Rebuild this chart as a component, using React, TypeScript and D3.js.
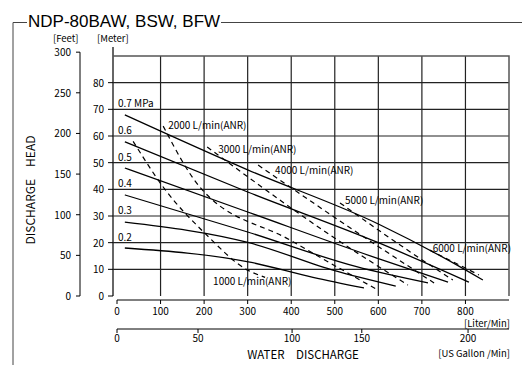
import * as d3 from "d3";

// pressure curves: [L/min, m]
const pressureNames = ["0.7 MPa", "0.6", "0.5", "0.4", "0.3", "0.2"];
const pressureLevels = [70, 60, 50, 40, 30, 20];
const p07 = [[18, 67.9], [300, 47.3], [600, 27], [800, 9.8], [840, 6]];
const p06 = [[18, 57.8], [300, 39], [600, 20], [808, 5.2]];
const p05 = [[18, 48], [300, 31.5], [600, 14], [760, 5.2]];
const p04 = [[18, 37.9], [300, 24], [550, 11], [714, 4.9]];
const p03 = [[18, 27.7], [305, 19.9], [500, 9.5], [640, 3.7]];
const p02 = [[18, 18], [305, 12.7], [450, 7], [567, 3]];
const pressureCurves = [p07, p06, p05, p04, p03, p02];

// air consumption curves
const airNames = ["1000 L/min(ANR)", "2000 L/min(ANR)", "3000 L/min(ANR)", "4000 L/min(ANR)", "5000 L/min(ANR)", "6000 L/min(ANR)"];
const a1000 = [[37, 58], [110, 40], [202, 23.5], [300, 9.7], [340, 7]];
const a2000 = [[106, 63.7], [190, 40.9], [397, 21], [595, 2.6]];
const a3000 = [[207, 55.9], [301, 44.6], [489, 22.9], [668, 4.1]];
const a4000 = [[324, 49.1], [526, 26.6], [728, 4.9]];
const a5000 = [[512, 34.9], [650, 19.1], [771, 6]];
const a6000 = [[718, 17.2], [831, 7.9]];
const airCurves = [a1000, a2000, a3000, a4000, a5000, a6000];
const airLabelOffsets = [[-52, 8], [5, 3], [11, 6], [17, 9], [5, 1], [3, 2]];

const flowTicks = [0, 100, 200, 300, 400, 500, 600, 700, 800];
const gallonTicks = [0, 50, 100, 150, 200];
// where the drawing puts the gallon ticks on the L/min scale
const gallonAtLiter = [0, 186, 402, 562, 806];
const meterTicks = [0, 10, 20, 30, 40, 50, 60, 70, 80];
const feetTicks = [0, 50, 100, 150, 200, 250, 300];

const jp = "'Noto Sans CJK JP', sans-serif";

export default function App() {
  const x = d3.scaleLinear().domain([0, 900]).range([117, 509]);
  const y = d3.scaleLinear().domain([0, 90]).range([296, 56]);
  const gal = d3.scaleLinear().domain(gallonTicks).range(gallonAtLiter.map((l) => x(l)));
  const line = d3
    .line<number[]>()
    .x((d) => x(d[0]))
    .y((d) => y(d[1]))
    .curve(d3.curveMonotoneX);

  return (
    <svg width={522} height={365} style={{ position: "absolute", left: 0, top: 0, background: "#fff" }}>
      {/* frame + title */}
      <path d="M13,365 V22.5 H27" stroke="#444" fill="none" />
      <path d="M221,22.5 H522" stroke="#444" fill="none" />
      <text x={28} y={27} fontFamily="'Liberation Sans', Arial, sans-serif" fontSize={17}>
        NDP-80BAW, BSW, BFW
      </text>

      {/* axis headers */}
      <text x={53} y={42} fontFamily={jp} fontSize={9.5}>[Feet]</text>
      <text x={97} y={42} fontFamily={jp} fontSize={9.5}>[Meter]</text>

      {/* feet axis */}
      <line x1={80} x2={80} y1={y(300 * 0.3048)} y2={y(0)} stroke="#000" />
      {feetTicks.map((t) => (
        <g key={t}>
          <line x1={76} x2={80} y1={y(t * 0.3048)} y2={y(t * 0.3048)} stroke="#000" />
          <text x={71} y={y(t * 0.3048) + 4} textAnchor="end" fontFamily={jp} fontSize={10}>
            {t}
          </text>
        </g>
      ))}

      {/* meter axis */}
      <line x1={113} x2={113} y1={47} y2={y(0)} stroke="#333" strokeWidth={1.5} />
      {meterTicks.map((t) => (
        <g key={t}>
          <line x1={108} x2={113} y1={y(t)} y2={y(t)} stroke="#000" />
          <text x={104} y={y(t) + 4} textAnchor="end" fontFamily={jp} fontSize={10}>
            {t}
          </text>
        </g>
      ))}

      {/* grid */}
      {meterTicks.slice(1).map((t) => (
        <line key={t} x1={113} x2={509} y1={y(t)} y2={y(t)} stroke="#222" strokeWidth={1.2} />
      ))}
      {flowTicks.slice(1).map((t) => (
        <line key={t} x1={x(t)} x2={x(t)} y1={y(90)} y2={y(0)} stroke="#222" strokeWidth={1.2} />
      ))}
      <path d={`M113,${y(90)} H${x(900)} V${y(0)}`} stroke="#555" strokeWidth={1.5} fill="none" />

      {/* curves */}
      {pressureCurves.map((c, i) => (
        <path key={i} d={line(c) ?? ""} stroke="#000" strokeWidth={1.3} fill="none" />
      ))}
      {airCurves.map((c, i) => (
        <path key={i} d={line(c) ?? ""} stroke="#000" strokeWidth={1.2} strokeDasharray="5,4" fill="none" />
      ))}
      {pressureNames.map((n, i) => (
        <text key={n} x={118} y={y(pressureLevels[i]) - 2} fontFamily={jp} fontSize={10}>
          {n}
        </text>
      ))}
      {airNames.map((n, i) => {
        const top = i === 0 ? airCurves[i][airCurves[i].length - 1] : airCurves[i][0];
        return (
          <text
            key={n}
            x={x(top[0]) + airLabelOffsets[i][0]}
            y={y(top[1]) + airLabelOffsets[i][1]}
            fontFamily={jp}
            fontSize={10}
          >
            {n}
          </text>
        );
      })}

      {/* flow axis (L/min) */}
      <line x1={x(0)} x2={x(900)} y1={300} y2={300} stroke="#000" />
      {flowTicks.map((t) => (
        <g key={t}>
          <line x1={x(t)} x2={x(t)} y1={300} y2={304} stroke="#000" />
          <text x={x(t)} y={315} textAnchor="middle" fontFamily={jp} fontSize={10}>
            {t}
          </text>
        </g>
      ))}
      <text x={510} y={327} textAnchor="end" fontFamily={jp} fontSize={9.5}>[Liter/Min]</text>

      {/* gallon axis */}
      <line x1={x(0)} x2={x(900)} y1={329} y2={329} stroke="#000" />
      {gallonTicks.map((t) => (
        <g key={t}>
          <line x1={gal(t)} x2={gal(t)} y1={329} y2={333} stroke="#000" />
          <text x={gal(t)} y={342} textAnchor="middle" fontFamily={jp} fontSize={10}>
            {t}
          </text>
        </g>
      ))}
      <text x={510} y={357} textAnchor="end" fontFamily={jp} fontSize={9.5}>[US Gallon /Min]</text>
      <text x={303} y={359} textAnchor="middle" fontFamily={jp} fontSize={11.5}>WATER　DISCHARGE</text>

      <text
        transform="translate(35,190) rotate(-90)"
        textAnchor="middle"
        fontFamily={jp}
        fontSize={12}
      >
        DISCHARGE　HEAD
      </text>
    </svg>
  );
}
